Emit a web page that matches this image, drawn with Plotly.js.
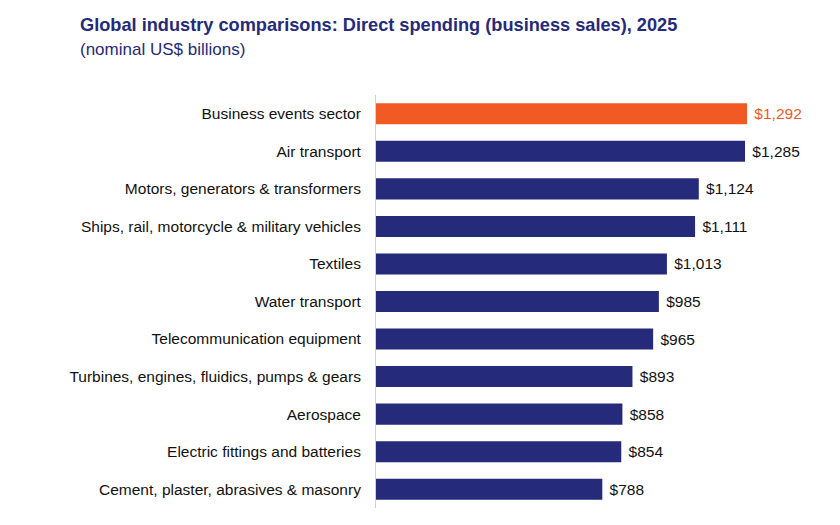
<!DOCTYPE html>
<html>
<head>
<meta charset="utf-8">
<script src="https://cdn.plot.ly/plotly-3.0.1.min.js"></script>
<style>html,body{margin:0;padding:0;background:#fff;}#chart{width:840px;height:525px;}</style>
</head>
<body>
<div id="chart"></div>
<script>
const categories = [
  "Business events sector",
  "Air transport",
  "Motors, generators & transformers",
  "Ships, rail, motorcycle & military vehicles",
  "Textiles",
  "Water transport",
  "Telecommunication equipment",
  "Turbines, engines, fluidics, pumps & gears",
  "Aerospace",
  "Electric fittings and batteries",
  "Cement, plaster, abrasives & masonry"
];
const values = [1292, 1285, 1124, 1111, 1013, 985, 965, 893, 858, 854, 788];
const valueLabels = ["$1,292", "$1,285", "$1,124", "$1,111", "$1,013", "$985", "$965", "$893", "$858", "$854", "$788"];

const NAVY = "#252a7a";
const ORANGE = "#f15a24";
const barColors = categories.map((c, i) => i === 0 ? ORANGE : NAVY);
const textColors = categories.map((c, i) => i === 0 ? ORANGE : "#111");

const trace = {
  type: "bar",
  orientation: "h",
  y: categories,
  x: values,
  text: valueLabels.map(t => "&nbsp;" + t),
  textposition: "outside",
  textfont: {family: "Liberation Sans, Arial, sans-serif", size: 15.5, color: textColors},
  cliponaxis: false,
  marker: {color: barColors},
  hoverinfo: "none"
};

const layout = {
  width: 840,
  height: 525,
  margin: {l: 376, r: 20, t: 95, b: 17},
  paper_bgcolor: "#fff",
  plot_bgcolor: "#fff",
  showlegend: false,
  bargap: 0.44,
  font: {family: "Liberation Sans, Arial, sans-serif", size: 15.5, color: "#111"},
  xaxis: {range: [0, 1546], visible: false, fixedrange: true},
  yaxis: {
    autorange: "reversed",
    showline: true,
    linecolor: "#d0d0d0",
    linewidth: 1,
    showgrid: false,
    zeroline: false,
    ticks: "",
    ticklabelstandoff: 11,
    tickfont: {size: 15.5, color: "#111"},
    fixedrange: true
  },
  annotations: [
    {
      xref: "paper", yref: "paper",
      x: (78 - 376) / 444, y: 1 + (95 - 25) / 413,
      xanchor: "left", yanchor: "middle",
      text: "<b>Global industry comparisons: Direct spending (business sales), 2025</b>",
      showarrow: false,
      font: {size: 18.2, color: NAVY}
    },
    {
      xref: "paper", yref: "paper",
      x: (78 - 376) / 444, y: 1 + (95 - 50) / 413,
      xanchor: "left", yanchor: "middle",
      text: "(nominal US$ billions)",
      showarrow: false,
      font: {size: 17, color: NAVY}
    }
  ]
};

Plotly.newPlot("chart", [trace], layout, {displayModeBar: false, staticPlot: true});
</script>
</body>
</html>
